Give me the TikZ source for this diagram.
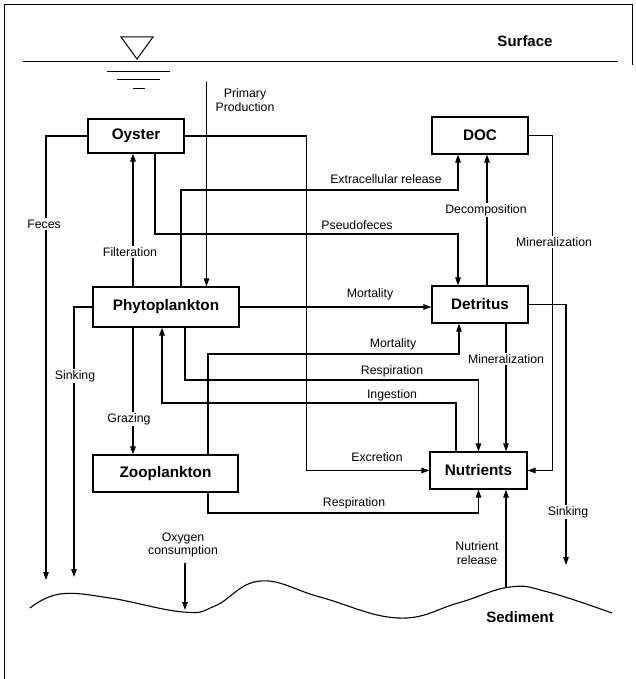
\documentclass[tikz,border=0pt]{standalone}
\usepackage{fontspec}
\setmainfont{Liberation Sans}
\usetikzlibrary{arrows.meta,calc}
\begin{document}
\begin{tikzpicture}[x=1pt,y=-1pt,
  box/.style={draw,line width=1.2pt,inner sep=0pt,font=\fontsize{15.3}{17}\selectfont\bfseries},
  lbl/.style={inner sep=1.5pt,font=\fontsize{12.3}{13.5}\selectfont},
  cut/.style={lbl,fill=white},
  conn/.style={line width=1.1pt},
  arr/.style={conn,-{Triangle[length=8pt,width=5.5pt]}},
  heavy/.style={line width=1.6pt}]
\useasboundingbox (0,0) rectangle (635,679);
% frame
\draw[line width=1pt] (632,65) -- (632,5) -- (4,5) -- (4,679);
% surface
\draw[line width=1pt] (23,62) -- (618,62);
\draw[line width=1pt] (121,37) -- (153,37) -- (137,59) -- cycle;
\draw[line width=1pt] (107,72) -- (170,72);
\draw[line width=1pt] (117,80) -- (160,80);
\draw[line width=1pt] (133,89) -- (145,89);
\node[font=\fontsize{15}{17}\selectfont\bfseries] (surf) at (525,41) {Surface};
% boxes
\node[box,minimum width=96pt,minimum height=34pt] (oy) at (136,136) {Oyster};
\node[box,minimum width=96pt,minimum height=37pt] (doc) at (480,135.5) {DOC};
\node[box,minimum width=146pt,minimum height=40pt] (phy) at (166,307) {Phytoplankton};
\node[box,minimum width=96pt,minimum height=37pt] (det) at (480,304.5) {Detritus};
\node[box,minimum width=145pt,minimum height=37pt] (zoo) at (165.5,473.5) {Zooplankton};
\node[box,minimum width=97pt,minimum height=37pt] (nut) at (478.5,470.5) {Nutrients};
% helper coordinates
\coordinate (pp) at (206.5,82);
\coordinate (fe) at (46,580);
\coordinate (sk1) at (74,577);
\coordinate (sk2) at (566,565);
\coordinate (ey) at (0,190);
\coordinate (py) at (0,234);
\coordinate (my) at (0,354);
\coordinate (ry) at (0,380);
\coordinate (iy) at (0,403);
\coordinate (zy) at (0,513);
\coordinate (nr) at (506,588);
\coordinate (oc1) at (185,563);
\coordinate (oc2) at (185,610);
\coordinate (f1) at ([xshift=-33pt]phy.north);
\coordinate (e1) at ([xshift=15pt]phy.north);
\coordinate (e2) at ([xshift=-22pt]doc.south);
\coordinate (p1) at ([xshift=19pt]oy.south);
\coordinate (p2) at ([xshift=-22pt]det.north);
\coordinate (d1) at ([xshift=7pt]det.north);
\coordinate (z1) at ([xshift=42.5pt]zoo.north);
\coordinate (m2) at ([xshift=-21pt]det.south);
\coordinate (r1) at ([xshift=19pt]phy.south);
\coordinate (i1) at ([xshift=-22.5pt]nut.north);
\coordinate (i2) at ([xshift=-4pt]phy.south);
\coordinate (g1) at ([xshift=-33pt]phy.south);
\coordinate (z2) at ([xshift=42.5pt]zoo.south);
\coordinate (dm) at ([xshift=26pt]det.south);
% connectors
\draw[arr] (pp) -- (pp |- phy.north);
\draw[arr] (oy.west) -| (fe);
\draw[arr,heavy] (f1) -- (f1 |- oy.south);
\draw[arr] (e1) -- (e1 |- ey) -| (e2);
\draw[arr] (p1) -- (p1 |- py) -| (p2);
\draw[arr] (oy.east) -| ($(nut.west)+(-123,0)$) -- (nut.west);
\draw[arr] (d1) -- (d1 |- doc.south);
\draw[arr] (doc.east) -| ($(nut.east)+(25,0)$) -- (nut.east);
\draw[arr] (phy.east) -- (phy.east -| det.west);
\draw[arr] (det.east) -| (sk2);
\draw[arr] (phy.west) -| (sk1);
\draw[arr] (z1) -- (z1 |- my) -| (m2);
\draw[arr] (r1) -- (r1 |- ry) -| (nut.north);
\draw[arr,heavy] (i1) -- (i1 |- iy) -| (i2);
\draw[arr,heavy] (g1) -- (g1 |- zoo.north);
\draw[arr] (z2) -- (z2 |- zy) -| (nut.south);
\draw[arr] (dm) -- (dm |- nut.north);
\draw[arr] (nr) -- (nr |- nut.south);
\draw[arr] (oc1) -- (oc2);
% sediment
\draw[line width=1.1pt] plot[smooth,tension=0.7] coordinates {(30,608) (60,594) (110,598) (183,612) (215,606) (260,581) (320,597) (398,618) (458,603) (510,587) (548,592) (612,613)};
\node[font=\fontsize{15}{17}\selectfont\bfseries] (sed) at (520,617) {Sediment};
% labels
\node[lbl,align=center] (lpp) at (245,100) {Primary\\Production};
\node[cut] (lfe) at (44,224) {Feces};
\node[cut] (lfi) at (130,252) {Filteration};
\node[lbl] (lex) at (386,179) {Extracellular release};
\node[lbl] (lps) at (357,225) {Pseudofeces};
\node[cut] (lde) at (486,210) {Decomposition};
\node[cut] (lmi1) at (554,242) {Mineralization};
\node[lbl] (lmo1) at (370,294) {Mortality};
\node[cut] (lsk1) at (75,376) {Sinking};
\node[lbl] (lmo2) at (393,344) {Mortality};
\node[lbl] (lre1) at (392,371) {Respiration};
\node[cut] (lmi2) at (506,359) {Mineralization};
\node[lbl] (lin) at (392,395) {Ingestion};
\node[cut] (lgr) at (129,419) {Grazing};
\node[lbl] (lxc) at (377,457) {Excretion};
\node[lbl] (lre2) at (354,503) {Respiration};
\node[cut] (lsk2) at (568,512) {Sinking};
\node[lbl,align=center] (loc) at (183,545) {Oxygen\\consumption};
\node[lbl,align=center] (lnr) at (477,553) {Nutrient\\release};
\end{tikzpicture}
\end{document}
